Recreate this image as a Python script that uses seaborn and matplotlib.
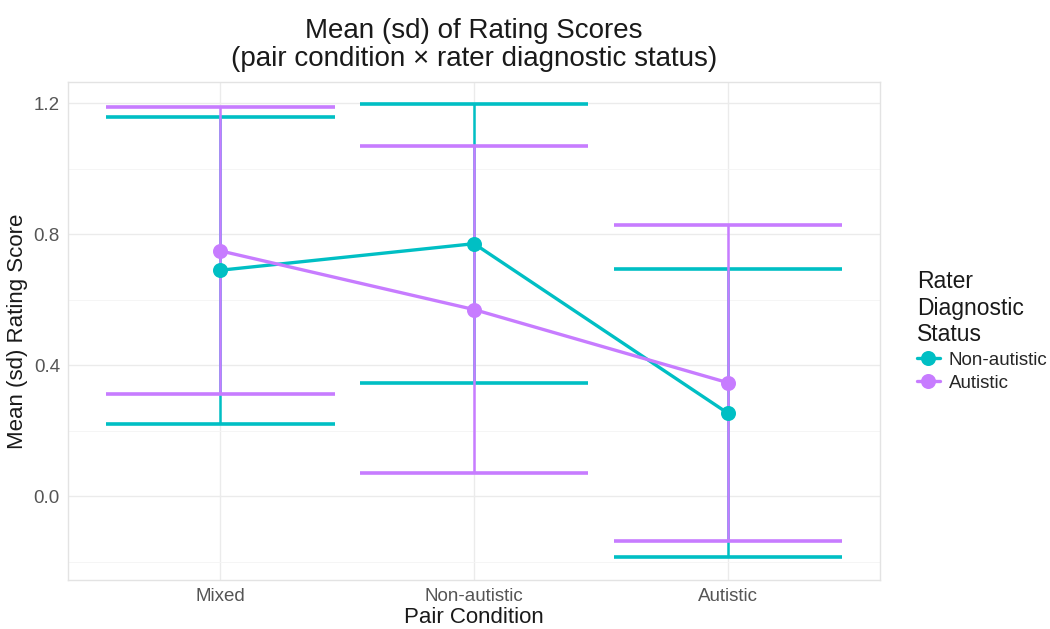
import matplotlib
matplotlib.use("Agg")
import matplotlib.pyplot as plt
import seaborn as sns
import pandas as pd

# --- Data ---
pair_conditions = ["Mixed", "Non-autistic", "Autistic"]
rater_groups = ["Non-autistic", "Autistic"]

# mean rating score per pair condition, one list per rater group
mean_non_autistic = [0.690, 0.771, 0.254]
mean_autistic = [0.749, 0.570, 0.347]

# standard deviation per pair condition
sd_non_autistic = [0.468, 0.425, 0.440]
sd_autistic = [0.438, 0.499, 0.482]

y_ticks = [0.0, 0.4, 0.8, 1.2]

group_colors = {"Non-autistic": "#00BFC4", "Autistic": "#C77CFF"}

# --- Build long-form table ---
rows = []
for group, means, sds in [("Non-autistic", mean_non_autistic, sd_non_autistic),
                          ("Autistic", mean_autistic, sd_autistic)]:
    for cond, m, s in zip(pair_conditions, means, sds):
        rows.append({"Pair Condition": cond, "Rater": group, "mean": m, "sd": s})
df = pd.DataFrame(rows)

# --- Plot ---
sns.set_theme(style="whitegrid")
plt.rcParams["font.family"] = ["Liberation Sans", "DejaVu Sans"]

fig = plt.figure(figsize=(10.5, 6.29), dpi=100)
ax = fig.add_axes([0.065, 0.078, 0.773, 0.792])

# error bars (mean +/- sd) with wide caps, drawn under the points
cap_half = 0.45
for group in rater_groups:
    sub = df[df["Rater"] == group]
    xs = [pair_conditions.index(c) for c in sub["Pair Condition"]]
    lo = sub["mean"] - sub["sd"]
    hi = sub["mean"] + sub["sd"]
    col = group_colors[group]
    ax.vlines(xs, lo, hi, color=col, linewidth=1.8, zorder=2)
    ax.hlines(lo, [x - cap_half for x in xs], [x + cap_half for x in xs],
              color=col, linewidth=2.6, zorder=2)
    ax.hlines(hi, [x - cap_half for x in xs], [x + cap_half for x in xs],
              color=col, linewidth=2.6, zorder=2)

sns.pointplot(data=df, x="Pair Condition", y="mean", hue="Rater",
              order=pair_conditions, hue_order=rater_groups,
              palette=group_colors, errorbar=None, dodge=False,
              markersize=9, linewidth=2.4, ax=ax)

for coll in ax.lines:
    coll.set_zorder(3)

ax.set_xlim(-0.6, 2.6)
ax.set_ylim(-0.255, 1.265)
ax.set_yticks(y_ticks)
ax.set_yticklabels([f"{v:.1f}" for v in y_ticks])
ax.set_yticks([-0.2, 0.2, 0.6, 1.0], minor=True)

ax.grid(True, which="major", color="#ebebeb", linewidth=1.0)
ax.grid(True, which="minor", axis="y", color="#f4f4f4", linewidth=0.6)
ax.set_axisbelow(True)
for side in ax.spines.values():
    side.set_color("#e3e3e3")
    side.set_linewidth(1.0)

ax.tick_params(axis="both", which="both", length=0, labelsize=13.5,
               labelcolor="#555555", pad=6)
ax.set_xlabel("Pair Condition", fontsize=16, color="#1a1a1a", labelpad=1)
ax.set_ylabel("Mean (sd) Rating Score", fontsize=16, color="#1a1a1a", labelpad=4)
ax.set_title("Mean (sd) of Rating Scores\n(pair condition \u00d7 rater diagnostic status)",
             fontsize=20, linespacing=1.12, pad=11, color="#1a1a1a")

sns.move_legend(ax, "center left", bbox_to_anchor=(1.025, 0.5),
                title="Rater\nDiagnostic\nStatus", frameon=False,
                fontsize=13.5, title_fontsize=16.5, alignment="left",
                handlelength=1.2, handletextpad=0.5, labelspacing=0.3)
ax.get_legend().get_title().set_color("#1a1a1a")

plt.savefig("out.png", dpi=100)
